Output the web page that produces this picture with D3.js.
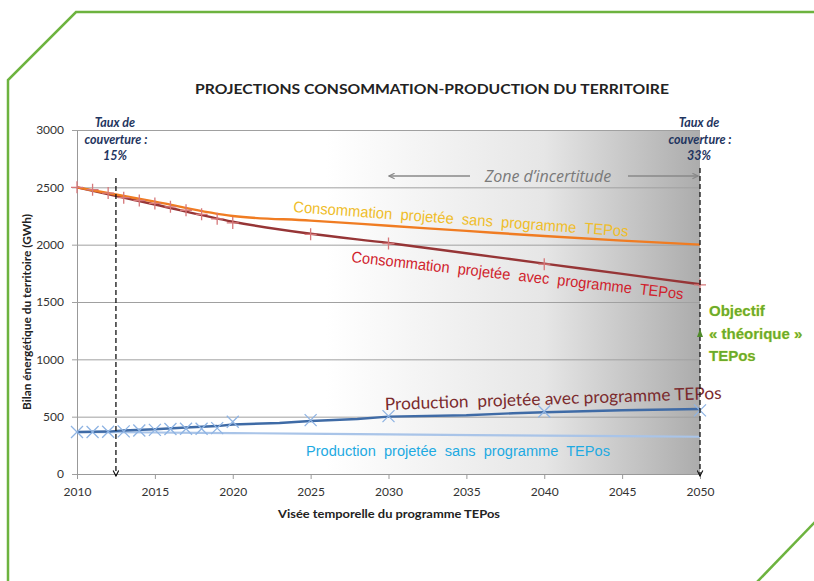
<!DOCTYPE html>
<html>
<head>
<meta charset="utf-8">
<script src="https://cdnjs.cloudflare.com/ajax/libs/d3/7.8.5/d3.min.js"></script>
<style>
    body { margin: 0; background: #fff; }
    text { font-family: Lato, "Open Sans", sans-serif; }
</style>
</head>
<body>
<script>
// Consumption without programme (orange line)
const consoSansYears = [2010, 2015, 2020, 2025, 2030, 2035, 2040, 2045, 2050];
const consoSansValues = [2500, 2375, 2250, 2210, 2165, 2120, 2075, 2035, 2000];

// Consumption with programme (dark red line + markers)
const consoAvecYears = [2010, 2015, 2020, 2025, 2030, 2035, 2040, 2045, 2050];
const consoAvecValues = [2500, 2350, 2200, 2095, 2015, 1925, 1835, 1745, 1655];
const consoMarkYears = [2010, 2011, 2012, 2013, 2014, 2015, 2016, 2017, 2018, 2019, 2020, 2025, 2030, 2040, 2050];
const consoMarkValues = [2500, 2480, 2450, 2410, 2385, 2360, 2330, 2300, 2265, 2225, 2190, 2090, 2010, 1830, 1650];

// Production with programme (dark blue line + markers)
const prodAvecYears = [2010, 2012, 2013, 2015, 2017, 2019, 2020, 2023, 2025, 2028, 2030, 2035, 2038, 2040, 2045, 2050];
const prodAvecValues = [366, 370, 380, 390, 405, 418, 432, 445, 462, 480, 500, 512, 530, 538, 556, 567];
const prodMarkYears = [2010, 2011, 2012, 2013, 2014, 2015, 2016, 2017, 2018, 2019, 2020, 2025, 2030, 2040, 2050];
const prodMarkValues = [366, 366, 368, 372, 380, 385, 392, 395, 395, 400, 455, 470, 505, 545, 555];

// Production without programme (light blue line)
const prodSansYears = [2010, 2015, 2020, 2030, 2040, 2050];
const prodSansValues = [366, 362, 357, 345, 335, 325];

const yTicks = [0, 500, 1000, 1500, 2000, 2500, 3000];
const xTicks = [2010, 2015, 2020, 2025, 2030, 2035, 2040, 2045, 2050];

const width = 814;
const height = 581;

const xScale = d3.scaleLinear().domain([2010, 2050]).range([77, 700]);
const yScale = d3.scaleLinear().domain([0, 3000]).range([474, 130]);

const svg = d3.select("body")
    .append("svg")
    .attr("width", width)
    .attr("height", height);

const defs = svg.append("defs");

// grey "uncertainty" gradient over the right part of the plot
const grad = defs.append("linearGradient")
    .attr("id", "zone")
    .attr("x1", 0).attr("x2", 1).attr("y1", 0).attr("y2", 0);
grad.append("stop").attr("offset", 0.4).attr("stop-color", "#ffffff");
grad.append("stop").attr("offset", 0.75).attr("stop-color", "#e6e6e6");
grad.append("stop").attr("offset", 1).attr("stop-color", "#acacac");

// arrow heads
const marker = (id, color) => defs.append("marker")
    .attr("id", id)
    .attr("viewBox", "0 0 10 10")
    .attr("refX", 9).attr("refY", 5)
    .attr("markerWidth", 7).attr("markerHeight", 7)
    .attr("markerUnits", "userSpaceOnUse")
    .attr("orient", "auto")
    .append("path")
    .attr("d", "M1,1 L9,5 L1,9")
    .attr("fill", "none")
    .attr("stroke", color)
    .attr("stroke-width", 1.6);
marker("arrowBlack", "#111");
marker("arrowGrey", "#888");

// green frame
svg.append("path")
    .attr("d", "M814,12 L76,12 L8,80 L8,581")
    .attr("fill", "none")
    .attr("stroke", "#6db33f")
    .attr("stroke-width", 2.5);
svg.append("path")
    .attr("d", "M816,521 L757,582")
    .attr("fill", "none")
    .attr("stroke", "#6db33f")
    .attr("stroke-width", 2.5);

// title
svg.append("text")
    .attr("x", 432)
    .attr("y", 94)
    .attr("text-anchor", "middle")
    .attr("font-size", 14)
    .attr("font-weight", "bold")
    .attr("fill", "#222")
    .attr("textLength", 474)
    .attr("lengthAdjust", "spacingAndGlyphs")
    .text("PROJECTIONS CONSOMMATION-PRODUCTION DU TERRITOIRE");

// plot background
svg.append("rect")
    .attr("x", xScale(2010))
    .attr("y", yScale(3000))
    .attr("width", xScale(2050) - xScale(2010))
    .attr("height", yScale(0) - yScale(3000))
    .attr("fill", "url(#zone)");

// gridlines + y axis
const yAxis = d3.axisLeft(yScale)
    .tickValues(yTicks)
    .tickFormat(d => d)
    .tickSize(-(xScale(2050) - xScale(2010)))
    .tickPadding(13);
const yAxisGroup = svg.append("g")
    .attr("transform", `translate(${xScale(2010)},0)`)
    .call(yAxis);
yAxisGroup.select(".domain").attr("stroke", "#999");
yAxisGroup.selectAll(".tick line").attr("stroke", "#a0a0a0").attr("x1", -5);
yAxisGroup.selectAll(".tick text")
    .attr("font-size", 12)
    .attr("fill", "#333")
    .style("font-family", "Lato, sans-serif");

// x axis
const xAxis = d3.axisBottom(xScale)
    .tickValues(xTicks)
    .tickFormat(d => d)
    .tickSize(5)
    .tickPadding(8);
const xAxisGroup = svg.append("g")
    .attr("transform", `translate(0,${yScale(0)})`)
    .call(xAxis);
xAxisGroup.select(".domain").attr("stroke", "#999");
xAxisGroup.selectAll(".tick line").attr("stroke", "#999");
xAxisGroup.selectAll(".tick text")
    .attr("font-size", 12)
    .attr("fill", "#333")
    .style("font-family", "Lato, sans-serif");

// axis titles
svg.append("text")
    .attr("transform", "translate(31,312) rotate(-90)")
    .attr("text-anchor", "middle")
    .attr("font-size", 10.5)
    .attr("font-weight", "bold")
    .attr("fill", "#222")
    .attr("textLength", 196)
    .attr("lengthAdjust", "spacingAndGlyphs")
    .text("Bilan énergétique du territoire (GWh)");

svg.append("text")
    .attr("x", 389)
    .attr("y", 518)
    .attr("text-anchor", "middle")
    .attr("font-size", 11)
    .attr("font-weight", "bold")
    .attr("fill", "#222")
    .attr("textLength", 222)
    .attr("lengthAdjust", "spacingAndGlyphs")
    .text("Visée temporelle du programme TEPos");

// series lines
const zipYears = (years, values) => years.map((y, i) => ({ x: y, y: values[i] }));
const line = d3.line().x(d => xScale(d.x)).y(d => yScale(d.y));

const drawLine = (data, color, w, curve) => svg.append("path")
    .datum(data)
    .attr("fill", "none")
    .attr("stroke", color)
    .attr("stroke-width", w)
    .attr("d", line.curve(curve || d3.curveLinear));

drawLine(zipYears(prodSansYears, prodSansValues), "#a9c4e8", 2.2, d3.curveMonotoneX);
drawLine(zipYears(prodAvecYears, prodAvecValues), "#3f6ba6", 2.4);
drawLine(zipYears(consoAvecYears, consoAvecValues), "#963536", 2.4, d3.curveMonotoneX);
drawLine(zipYears(consoSansYears, consoSansValues), "#f07c22", 2.4, d3.curveMonotoneX);

// markers: + for consumption, x for production
svg.selectAll(".plus")
    .data(zipYears(consoMarkYears, consoMarkValues))
    .enter()
    .append("path")
    .attr("class", "plus")
    .attr("transform", d => `translate(${xScale(d.x)},${yScale(d.y)})`)
    .attr("d", "M-6,0 L6,0 M0,-6 L0,6")
    .attr("stroke", "#d6787a")
    .attr("stroke-width", 1.3);

svg.selectAll(".cross")
    .data(zipYears(prodMarkYears, prodMarkValues))
    .enter()
    .append("path")
    .attr("class", "cross")
    .attr("transform", d => `translate(${xScale(d.x)},${yScale(d.y)})`)
    .attr("d", "M-6,-6 L6,6 M-6,6 L6,-6")
    .attr("stroke", "#8fb4e3")
    .attr("stroke-width", 1.3);

// series labels (double spaces kept like the original)
const label = (txt, x, y, angle, len, size, color) => svg.append("text")
    .attr("transform", `translate(${x},${y}) rotate(${angle})`)
    .attr("font-size", size)
    .attr("fill", color)
    .attr("textLength", len)
    .attr("lengthAdjust", "spacingAndGlyphs")
    .style("white-space", "pre")
    .style("font-family", "'Liberation Sans', Arial, sans-serif")
    .text(txt);

label("Consommation  projetée  sans  programme  TEPos", 293, 212, 4.2, 336, 15.5, "#efbd2a");
label("Consommation  projetée  avec  programme  TEPos", 351, 262, 6.4, 334, 15.5, "#d0222c");
label("Production  projetée avec programme TEPos", 385, 410, -1.9, 337, 17, "#7b2b2e")
    .style("font-family", "Lato, 'Open Sans', sans-serif");
label("Production  projetée  sans  programme  TEPos", 306, 456, 0, 304, 15.5, "#1eaae2");

// dashed coverage markers
const dashed = (year, y1) => svg.append("line")
    .attr("x1", xScale(year)).attr("x2", xScale(year))
    .attr("y1", y1).attr("y2", yScale(0) + 2)
    .attr("stroke", "#111")
    .attr("stroke-width", 1.3)
    .attr("stroke-dasharray", "5,3")
    .attr("marker-end", "url(#arrowBlack)");
dashed(2012.5, 178);
dashed(2050, 168);

const coverage = (year, pct) => {
    const g = svg.append("text")
        .attr("text-anchor", "middle")
        .attr("font-size", 12.5)
        .attr("font-weight", "bold")
        .attr("font-style", "italic")
        .attr("fill", "#1f3560");
    ["Taux de", "couverture :", pct].forEach((t, i) => {
        g.append("tspan")
            .attr("x", xScale(year) + (i == 1 ? 0 : -1))
            .attr("y", 127 + i * 16.5)
            .text(t);
    });
};
coverage(2012.5, "15%");
coverage(2050, "33%");

// uncertainty zone
svg.append("text")
    .attr("x", 548)
    .attr("y", 182)
    .attr("text-anchor", "middle")
    .attr("font-size", 16)
    .attr("font-style", "italic")
    .attr("fill", "#7a7a7a")
    .style("font-family", "'Open Sans', sans-serif")
    .text("Zone d’incertitude");
svg.append("line")
    .attr("x1", 470).attr("x2", 389).attr("y1", 176).attr("y2", 176)
    .attr("stroke", "#888").attr("stroke-width", 1.3)
    .attr("marker-end", "url(#arrowGrey)");
svg.append("line")
    .attr("x1", 628).attr("x2", 698).attr("y1", 176).attr("y2", 176)
    .attr("stroke", "#888").attr("stroke-width", 1.3)
    .attr("marker-end", "url(#arrowGrey)");

// objective
svg.append("path")
    .attr("d", `M${xScale(2050) - 3},337 L${xScale(2050)},329 L${xScale(2050) + 3},337 Z`)
    .attr("fill", "#4f8a2a");

const obj = svg.append("text")
    .attr("font-size", 15)
    .attr("font-weight", "bold")
    .attr("fill", "#6aab2c")
    .attr("stroke", "#f3f07a")
    .attr("stroke-width", 0.6)
    .attr("paint-order", "stroke")
    .style("font-family", "'Liberation Sans', Arial, sans-serif");
["Objectif", "« théorique »", "TEPos"].forEach((t, i) => {
    obj.append("tspan").attr("x", 709).attr("y", 316 + i * 22.5).text(t);
});
</script>
</body>
</html>
